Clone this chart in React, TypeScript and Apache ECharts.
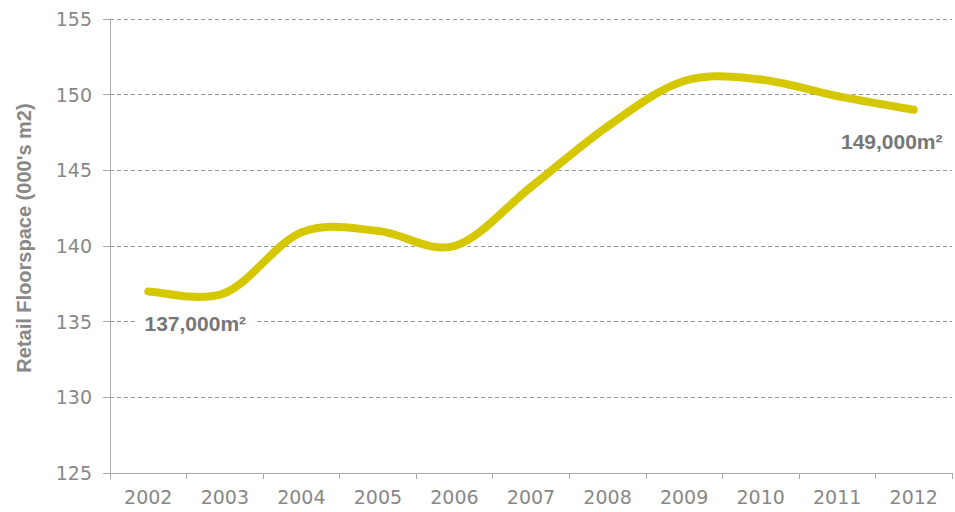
import React, { useEffect, useRef } from "react";
import * as echarts from "echarts";

const years = ["2002", "2003", "2004", "2005", "2006", "2007", "2008", "2009", "2010", "2011", "2012"];
const floorspace = [137, 136.9, 140.9, 141.0, 140.0, 143.9, 147.9, 150.9, 151.0, 149.9, 149.0];
const yMin = 125;
const yMax = 155;
const yStep = 5;
const startLabel = "137,000m²";
const endLabel = "149,000m²";
const yAxisTitle = "Retail Floorspace (000's m2)";

const LINE_COLOR = "#d5c700";

export default function App() {
  const ref = useRef<HTMLDivElement>(null);
  useEffect(() => {
    if (!ref.current) return;
    const chart = echarts.init(ref.current, undefined, { renderer: "svg" });
    const n = floorspace.length;
    chart.setOption({
      animation: false,
      backgroundColor: "#ffffff",
      grid: { left: 110, right: 3, top: 19, bottom: 39 },
      xAxis: {
        type: "category",
        data: years,
        boundaryGap: true,
        axisLine: { lineStyle: { color: "#aaaaaa", width: 1 } },
        axisTick: { show: true, length: 6, lineStyle: { color: "#aaaaaa" } },
        axisLabel: {
          color: "#888888",
          fontFamily: "DejaVu Sans",
          fontSize: 19,
          margin: 14,
        },
      },
      yAxis: {
        type: "value",
        min: yMin,
        max: yMax,
        interval: yStep,
        name: yAxisTitle,
        nameLocation: "middle",
        nameGap: 76,
        nameTextStyle: {
          color: "#888888",
          fontFamily: "Liberation Sans",
          fontWeight: "bold",
          fontSize: 20,
          padding: [0, 0, 0, 16],
        },
        axisLine: { show: true, lineStyle: { color: "#aaaaaa", width: 1 } },
        axisTick: { show: true, length: 7, lineStyle: { color: "#aaaaaa" } },
        axisLabel: {
          color: "#888888",
          fontFamily: "DejaVu Sans",
          fontSize: 19,
          margin: 18,
        },
        splitLine: {
          show: true,
          lineStyle: { color: "#999999", type: [4, 3], width: 1 },
        },
      },
      series: [
        {
          type: "custom",
          name: "Retail Floorspace",
          data: floorspace.map((v, i) => [i, v]),
          encode: { x: 0, y: 1 },
          z: 3,
          renderItem: (params: any, api: any) => {
            const i = params.dataIndex;
            if (i >= n - 1) return null;
            const pt = (k: number) => {
              const kk = Math.max(0, Math.min(n - 1, k));
              return api.coord([kk, floorspace[kk]]);
            };
            const p0 = pt(i - 1);
            const p1 = pt(i);
            const p2 = pt(i + 1);
            const p3 = pt(i + 2);
            const t = 1 / 6;
            return {
              type: "bezierCurve",
              shape: {
                x1: p1[0],
                y1: p1[1],
                cpx1: p1[0] + (p2[0] - p0[0]) * t,
                cpy1: p1[1] + (p2[1] - p0[1]) * t,
                cpx2: p2[0] - (p3[0] - p1[0]) * t,
                cpy2: p2[1] - (p3[1] - p1[1]) * t,
                x2: p2[0],
                y2: p2[1],
              },
              style: {
                stroke: LINE_COLOR,
                lineWidth: 8,
                fill: "none",
                lineCap: "round",
              },
            };
          },
          markPoint: {
            symbol: "rect",
            symbolSize: 0,
            silent: true,
            label: {
              show: true,
              color: "#777777",
              fontFamily: "Liberation Sans",
              fontWeight: "bold",
              fontSize: 21,
              backgroundColor: "#ffffff",
              padding: [2, 8, 2, 8],
              formatter: (p: any) => p.name,
            },
            data: [
              { name: startLabel, coord: [0, 135], label: { offset: [47, 2] } },
              { name: endLabel, coord: [10, 146.9], label: { offset: [-22, 0], backgroundColor: "transparent" } },
            ],
          },
        },
      ],
    });
    return () => chart.dispose();
  }, []);
  return (
    <div
      ref={ref}
      style={{ position: "fixed", left: 0, top: 0, width: 955, height: 512, background: "#fff" }}
    />
  );
}
